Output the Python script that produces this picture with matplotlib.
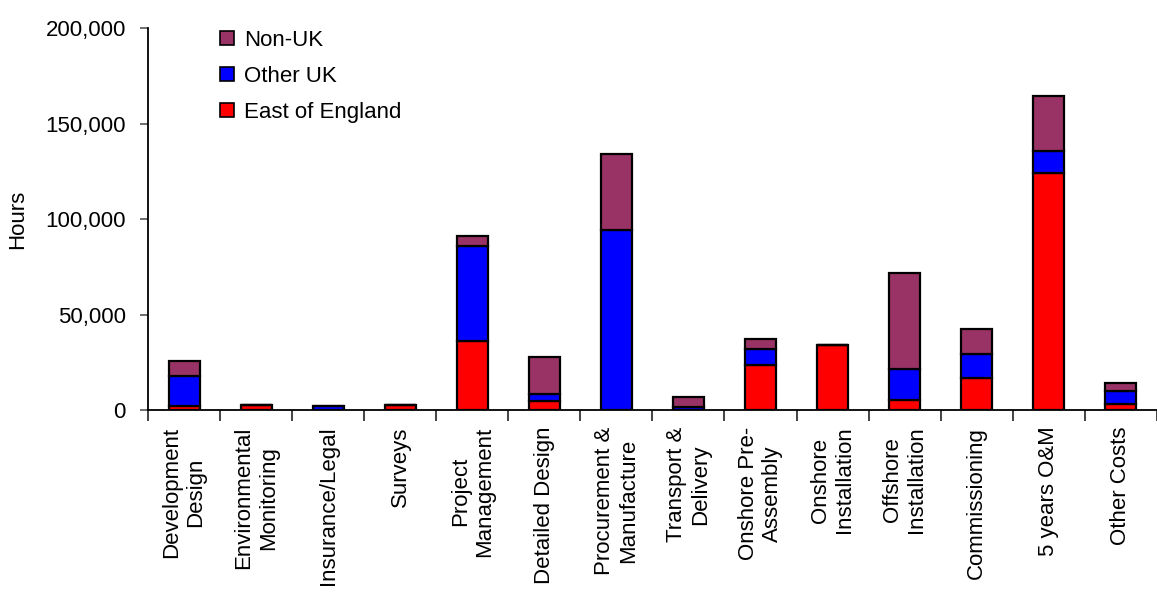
import matplotlib.pyplot as plt
import numpy as np
from matplotlib.ticker import FuncFormatter

plt.rcParams['font.family'] = ['Liberation Sans', 'DejaVu Sans']

categories = ['Development\nDesign', 'Environmental\nMonitoring', 'Insurance/Legal',
              'Surveys', 'Project\nManagement', 'Detailed Design',
              'Procurement &\nManufacture', 'Transport &\nDelivery',
              'Onshore Pre-\nAssembly', 'Onshore\nInstallation', 'Offshore\nInstallation',
              'Commissioning', '5 years O&M', 'Other Costs']

# hours per region
east_england = [2300, 2800, 0, 2800, 36000, 4500, 0, 0, 23800, 34200, 5200, 16800, 123900, 3100]
other_uk = [15700, 0, 1900, 0, 49800, 4000, 94500, 1700, 8400, 0, 16400, 12400, 11600, 7000]
non_uk = [7700, 0, 0, 0, 5200, 19400, 39300, 5000, 5200, 0, 50000, 13400, 28800, 3900]

col_east = '#ff0000'
col_other = '#0000ff'
col_non = '#993366'

fig = plt.figure(figsize=(11.57, 5.92), dpi=100)
ax = fig.add_axes([0.1279, 0.3074, 0.872, 0.6453])

x = np.arange(len(categories))
w = 0.43
east = np.array(east_england)
other = np.array(other_uk)
non = np.array(non_uk)

b1 = ax.bar(x, east, w, color=col_east, edgecolor='black', linewidth=1.6, label='East of England')
b2 = ax.bar(x, other, w, bottom=east, color=col_other, edgecolor='black', linewidth=1.6, label='Other UK')
b3 = ax.bar(x, non, w, bottom=east + other, color=col_non, edgecolor='black', linewidth=1.6, label='Non-UK')

ax.set_xlim(-0.5, len(categories) - 0.5)
ax.set_ylim(0, 200000)
ax.set_yticks(np.arange(0, 200001, 50000))
ax.yaxis.set_major_formatter(FuncFormatter(lambda v, p: f'{int(v):,}'))
ax.tick_params(axis='y', labelsize=16, length=6, width=1.2, color='#555555', pad=10)

ax.set_xticks(x)
ax.set_xticklabels(categories, rotation=90, fontsize=16, ha='center', va='top',
                   multialignment='center')
ax.tick_params(axis='x', which='major', length=0, pad=12)
ax.set_xticks(np.arange(-0.5, len(categories), 1), minor=True)
ax.tick_params(axis='x', which='minor', length=8, width=1.2, color='#222222')

for s in ['top', 'right']:
    ax.spines[s].set_visible(False)
ax.spines['left'].set_linewidth(1.3)
ax.spines['bottom'].set_linewidth(1.3)

ax.set_ylabel('Hours', fontsize=16, labelpad=12)

leg = ax.legend(handles=[b3, b2, b1], loc='upper left', bbox_to_anchor=(0.052, 1.048),
                frameon=False, fontsize=16, handlelength=0.62, handleheight=0.62,
                labelspacing=0.68, handletextpad=0.45)
for p in leg.get_patches():
    p.set_linewidth(1.2)

fig.savefig('out.png', dpi=100)
